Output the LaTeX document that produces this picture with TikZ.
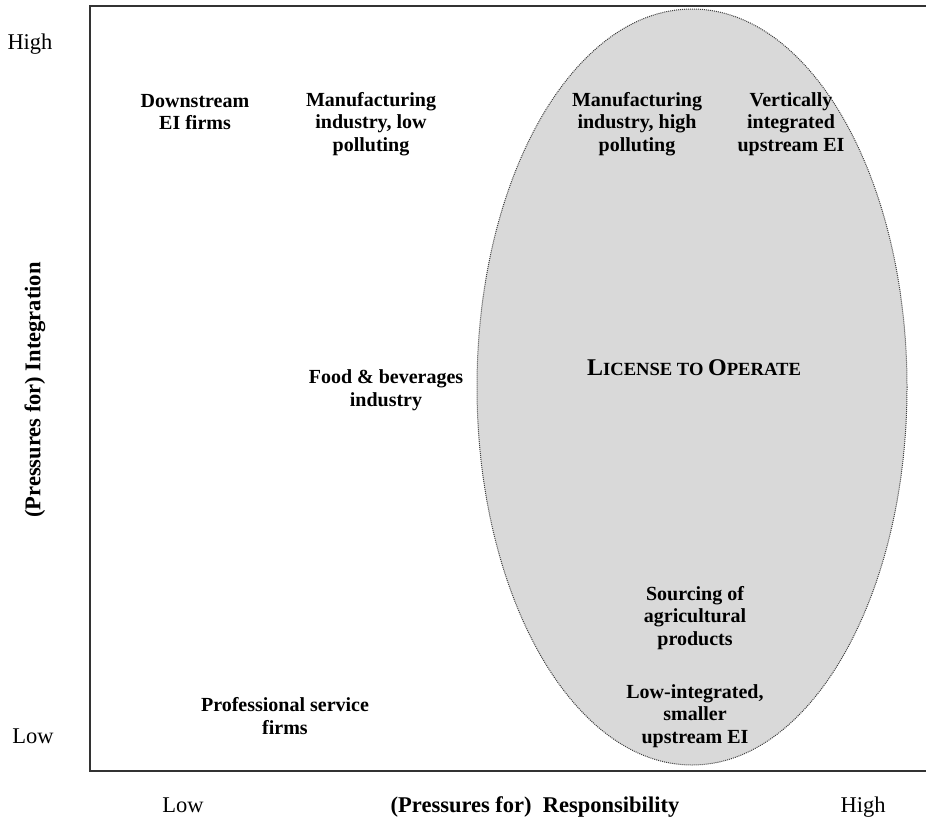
\documentclass[tikz,border=0pt]{standalone}
\usepackage{fontspec}
\setmainfont{Liberation Serif}
\begin{document}
\begin{tikzpicture}[x=1pt,y=-1pt,
  firm/.style={align=center,inner sep=0pt,font=\fontsize{20}{22.6}\selectfont\bfseries},
  axislevel/.style={inner sep=0pt,font=\fontsize{22.5}{26}\selectfont},
  axistitle/.style={inner sep=0pt,font=\fontsize{22.5}{26}\selectfont\bfseries},
  frame/.style={draw=black!80,line width=1.4pt},
  zone/.style={draw=black!75,fill=black!15,densely dotted,line width=1pt}]
\useasboundingbox (0,0) rectangle (926,819);

% shaded region of high responsibility pressure
\draw[zone] (692,387) ellipse [x radius=215, y radius=378];

% chart frame: left, top and bottom rules
\coordinate (tl) at (90,6);
\coordinate (bl) at (90,771);
\coordinate (tr) at (926,6);
\coordinate (br) at (926,771);
\draw[frame] (tr) -- (tl) -- (bl) -- (br);

% axis levels and titles
\node[axislevel,anchor=base] (yhigh) at (30,49) {High};
\node[axislevel,anchor=base] (ylow) at (33,743) {Low};
\node[axistitle,rotate=90] (ytitle) at (35,390) {(Pressures for) Integration};
\node[axislevel,anchor=base] (xlow) at (183,812) {Low};
\node[axislevel,anchor=base] (xhigh) at (863,812) {High};
\node[axistitle,anchor=base] (xtitle) at (535,812) {(Pressures for)\ \ Responsibility};

% firm categories
\node[firm] (down) at (195,112) {Downstream\\EI firms};
\node[firm] (mlow) at (371,124) {Manufacturing\\industry, low\\polluting};
\node[firm] (mhigh) at (637,124) {Manufacturing\\industry, high\\polluting};
\node[firm] (vert) at (791,124) {Vertically\\integrated\\upstream EI};
\node[firm] (food) at (386,390) {Food \& beverages\\industry};
\node[firm] (agri) at (695,618) {Sourcing of\\agricultural\\products};
\node[firm] (lowint) at (695,716) {Low-integrated,\\smaller\\upstream EI};
\node[firm] (prof) at (285,716) {Professional service\\firms};

% zone title in small capitals
\node[inner sep=0pt,font=\bfseries] (lto) at (694,368)
  {{\fontsize{24}{26}\selectfont L}{\fontsize{18.6}{26}\selectfont ICENSE TO }{\fontsize{24}{26}\selectfont O}{\fontsize{18.6}{26}\selectfont PERATE}};
\end{tikzpicture}
\end{document}
